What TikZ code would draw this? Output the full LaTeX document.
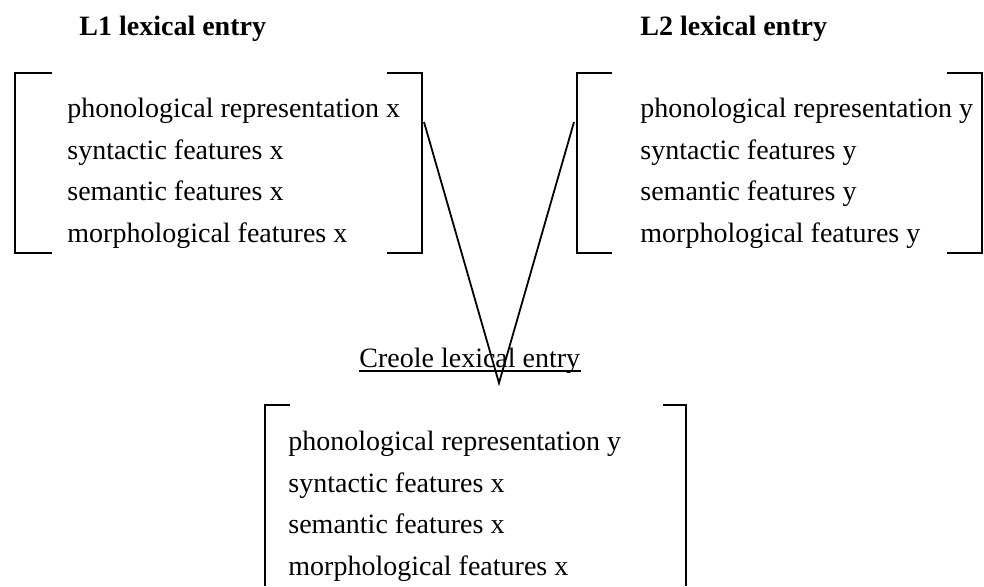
\documentclass[tikz,border=0pt]{standalone}
\usepackage{fontspec}
\setmainfont{Liberation Serif}

\tikzset{
  entry/.style={anchor=base west,inner sep=0pt,font=\fontsize{14}{17}\selectfont},
  headline/.style={entry,font=\fontsize{14}{17}\selectfont\bfseries},
  brack/.style={line width=1pt},
  link/.style={line width=0.9pt}
}

\begin{document}
\begin{tikzpicture}[x=0.5pt,y=-0.5pt]
 \useasboundingbox (0,0) rectangle (984,586);
 % headings
 \node[headline] (l1head) at (79,35) {L1 lexical entry};
 \node[headline] (l2head) at (640,35) {L2 lexical entry};
 % L1 entry
 \draw[brack] (52,73) -- (15,73) -- (15,253) -- (52,253);
 \draw[brack] (387,73) -- (422,73) -- (422,253) -- (387,253);
 \node[entry] (l1phon) at (67,117) {phonological representation x};
 \node[entry] (l1syn) at (67,159) {syntactic features x};
 \node[entry] (l1sem) at (67,200) {semantic features x};
 \node[entry] (l1mor) at (67,242) {morphological features x};
 % L2 entry
 \draw[brack] (612,73) -- (577,73) -- (577,253) -- (612,253);
 \draw[brack] (947,73) -- (982,73) -- (982,253) -- (947,253);
 \node[entry] (l2phon) at (640,117) {phonological representation y};
 \node[entry] (l2syn) at (640,159) {syntactic features y};
 \node[entry] (l2sem) at (640,200) {semantic features y};
 \node[entry] (l2mor) at (640,242) {morphological features y};
 % creole entry
 \node[entry] (creole) at (359,367) {Creole lexical entry};
 \draw[link] ([yshift=-2pt]creole.base west) -- ([yshift=-2pt]creole.base east);
 \draw[brack] (290,405) -- (265,405) -- (265,586);
 \draw[brack] (663,405) -- (686,405) -- (686,586);
 \node[entry] (crphon) at (288,450) {phonological representation y};
 \node[entry] (crsyn) at (288,492) {syntactic features x};
 \node[entry] (crsem) at (288,533) {semantic features x};
 \node[entry] (crmor) at (288,575) {morphological features x};
 % the two lines into the creole entry
 \coordinate (l1out) at (424,122);
 \coordinate (l2out) at (574,122);
 \coordinate (tip) at (499,383);
 \draw[link] (l1out) -- (tip) -- (l2out);
\end{tikzpicture}
\end{document}
